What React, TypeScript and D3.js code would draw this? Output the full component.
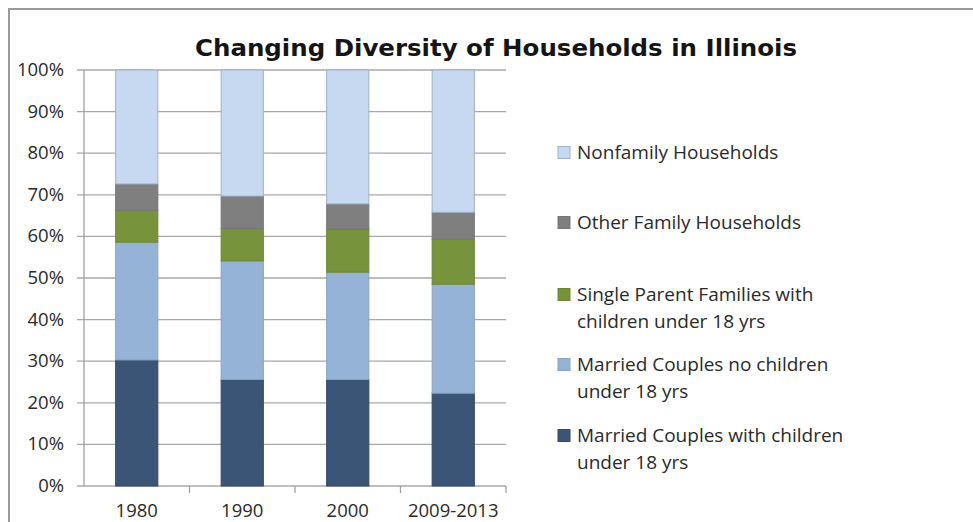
import React from "react";
import * as d3 from "d3";

const categories = ["1980", "1990", "2000", "2009-2013"];
const marriedWithChildren = [30.3, 25.6, 25.6, 22.3];
const marriedNoChildren = [28.3, 28.5, 25.8, 26.2];
const singleParent = [7.7, 7.8, 10.3, 10.9];
const otherFamily = [6.3, 7.8, 6.1, 6.4];
const nonfamily = [27.4, 30.3, 32.2, 34.2];
const yTicks = [0, 10, 20, 30, 40, 50, 60, 70, 80, 90, 100];

const seriesKeys = ["mwc", "mnc", "sp", "of", "nf"];
const seriesLabels: Record<string, string[]> = {
  nf: ["Nonfamily Households"],
  of: ["Other Family Households"],
  sp: ["Single Parent Families with", "children under 18 yrs"],
  mnc: ["Married Couples no children", "under 18 yrs"],
  mwc: ["Married Couples with children", "under 18 yrs"],
};
const colors: Record<string, string> = {
  mwc: "#3B5577",
  mnc: "#95B3D7",
  sp: "#77933C",
  of: "#7F7F7F",
  nf: "#C6D9F1",
};
const strokes: Record<string, string> = {
  mwc: "#34496a",
  mnc: "#8aa3c2",
  sp: "#6c8638",
  of: "#777777",
  nf: "#9fb1c9",
};
const legendOrder = ["nf", "of", "sp", "mnc", "mwc"];

export default function App() {
  const W = 973, H = 522;
  const left = 84, right = 506, top = 70, bottom = 486;
  const table = categories.map((c, i) => ({
    cat: c,
    mwc: marriedWithChildren[i],
    mnc: marriedNoChildren[i],
    sp: singleParent[i],
    of: otherFamily[i],
    nf: nonfamily[i],
  }));
  const stack = d3.stack<any>().keys(seriesKeys)(table);
  const x = d3.scaleBand<string>().domain(categories).range([left, right]).paddingInner(0.6).paddingOuter(0.3);
  const xb = d3.scaleBand<string>().domain(categories).range([left, right]);
  const y = d3.scaleLinear().domain([0, 100]).range([bottom, top]);
  const font = "'Open Sans', 'Liberation Sans', sans-serif";
  const legendX = 558, textX = 577;
  const legendY: Record<string, number> = { nf: 159, of: 229, sp: 301, mnc: 371, mwc: 442 };

  return (
    <svg width={W} height={H} style={{ position: "fixed", left: 0, top: 0, background: "#fff" }}>
      <rect x={0} y={0} width={W} height={H} fill="#fff" />
      <rect x={9} y={9} width={1200} height={1200} fill="none" stroke="#9a9a9a" strokeWidth={2} />
      <text x={496} y={56} textAnchor="middle" fontFamily="'DejaVu Sans', sans-serif" fontWeight="bold" fontSize={23} textLength={602} lengthAdjust="spacingAndGlyphs" fill="#151515">
        Changing Diversity of Households in Illinois
      </text>
      {yTicks.map((t) => (
        <g key={t}>
          <line x1={77} x2={right} y1={y(t)} y2={y(t)} stroke="#a8a8a8" strokeWidth={1.3} />
          <text x={64} y={y(t) + 6} textAnchor="end" fontFamily={font} fontSize={18.5} fill="#2a2a2a">
            {t}%
          </text>
        </g>
      ))}
      <line x1={left} x2={left} y1={top} y2={bottom} stroke="#a0a0a0" strokeWidth={1.3} />
      {categories.map((c) => (
        <line key={c} x1={(xb(c) as number) + xb.bandwidth()} x2={(xb(c) as number) + xb.bandwidth()} y1={bottom} y2={bottom + 7} stroke="#a0a0a0" strokeWidth={1.3} />
      ))}
      {stack.map((s) =>
        s.map((d, i) => (
          <rect
            key={s.key + i}
            x={x(categories[i])}
            width={x.bandwidth()}
            y={y(d[1])}
            height={y(d[0]) - y(d[1])}
            fill={colors[s.key]}
            stroke={strokes[s.key]}
            strokeWidth={1}
          />
        ))
      )}
      {categories.map((c) => (
        <text key={c} x={(x(c) as number) + x.bandwidth() / 2} y={517} textAnchor="middle" fontFamily={font} fontSize={18.5} fill="#2a2a2a">
          {c}
        </text>
      ))}
      {legendOrder.map((k) => (
        <g key={k}>
          <rect x={legendX} y={legendY[k] - 12.5} width={12} height={12} fill={colors[k]} stroke={strokes[k]} strokeWidth={1} />
          {seriesLabels[k].map((line, j) => (
            <text key={j} x={textX} y={legendY[k] + j * 26.5} fontFamily={font} fontSize={19} fill="#2a2a2a">
              {line}
            </text>
          ))}
        </g>
      ))}
    </svg>
  );
}
